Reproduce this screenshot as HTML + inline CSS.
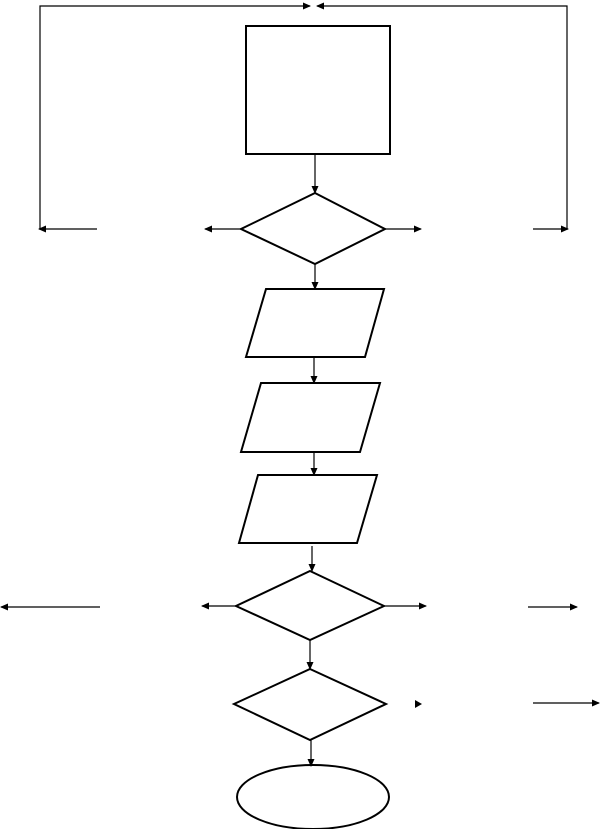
<!DOCTYPE html>
<html><head><style>body{margin:0;background:#fff}svg{display:block}</style></head><body>
<svg width="601" height="829" viewBox="0 0 601 829" xmlns="http://www.w3.org/2000/svg">
<defs><marker id="a" markerWidth="8" markerHeight="8" refX="7" refY="4" orient="auto" markerUnits="userSpaceOnUse"><path d="M0,0.5 L8,4 L0,7.5z" fill="#000"/></marker></defs>
<g fill="none" stroke="#000" stroke-width="1.2">
<path d="M40,229 V6 H310" marker-end="url(#a)"/>
<path d="M567,229 V6 H317" marker-end="url(#a)"/>
<rect x="246" y="26" width="144" height="128" stroke-width="2"/>
<line x1="315" y1="155" x2="315" y2="193" marker-end="url(#a)"/>
<polygon points="315,193 385,229 315,264 241,229" stroke-width="2"/>
<line x1="241" y1="229" x2="205" y2="229" marker-end="url(#a)"/>
<line x1="97" y1="229" x2="39" y2="229" marker-end="url(#a)"/>
<line x1="385" y1="229" x2="421" y2="229" marker-end="url(#a)"/>
<line x1="533" y1="229" x2="568" y2="229" marker-end="url(#a)"/>
<line x1="315" y1="264" x2="315" y2="289" marker-end="url(#a)"/>
<polygon points="266,289 384,289 365,357 246,357" stroke-width="2"/>
<line x1="314" y1="357" x2="314" y2="383" marker-end="url(#a)"/>
<polygon points="261,383 380,383 360,452 241,452" stroke-width="2"/>
<line x1="314" y1="452" x2="314" y2="475" marker-end="url(#a)"/>
<polygon points="258,475 377,475 357,543 239,543" stroke-width="2"/>
<line x1="312" y1="546" x2="312" y2="571" marker-end="url(#a)"/>
<polygon points="310,571 384,606 310,640 236,606" stroke-width="2"/>
<line x1="236" y1="606" x2="202" y2="606" marker-end="url(#a)"/>
<line x1="100" y1="607" x2="1" y2="607" marker-end="url(#a)"/>
<line x1="384" y1="606" x2="426" y2="606" marker-end="url(#a)"/>
<line x1="528" y1="607" x2="577" y2="607" marker-end="url(#a)"/>
<line x1="310" y1="640" x2="310" y2="669" marker-end="url(#a)"/>
<polygon points="310,669 386,704 310,740 234,704" stroke-width="2"/>
<path d="M415,700 L422,704 L415,708z" fill="#000" stroke="none"/>
<line x1="533" y1="703" x2="599" y2="703" marker-end="url(#a)"/>
<line x1="311" y1="740" x2="311" y2="766" marker-end="url(#a)"/>
<ellipse cx="313" cy="797" rx="76" ry="32" stroke-width="2"/>
</g>
</svg>
</body></html>
